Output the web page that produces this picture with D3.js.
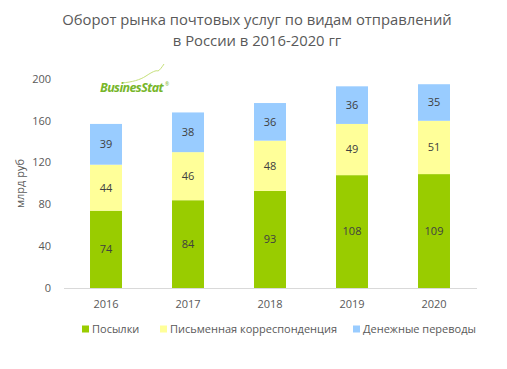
<!DOCTYPE html>
<html>
<head>
<meta charset="utf-8">
<script src="https://cdn.jsdelivr.net/npm/d3@7"></script>
<style>
  body { margin: 0; background: #fff; }
  text { font-family: "Open Sans", "Noto Sans", sans-serif; }
</style>
</head>
<body>
<div id="chart"></div>
<script>
const width = 507;
const height = 369;

// Data
const years = ["2016", "2017", "2018", "2019", "2020"];
const parcels = [74, 84, 93, 108, 109];
const letters = [44, 46, 48, 49, 51];
const transfers = [39, 38, 36, 36, 35];
const seriesNames = ["Посылки", "Письменная корреспонденция", "Денежные переводы"];
const colors = ["#99cc00", "#ffff99", "#99ccff"];
const yTicks = [0, 40, 80, 120, 160, 200];

const rows = years.map((y, i) => ({ year: y, s0: parcels[i], s1: letters[i], s2: transfers[i] }));
const stacked = d3.stack().keys(["s0", "s1", "s2"])(rows);

const svg = d3.select("#chart")
    .append("svg")
    .attr("width", width)
    .attr("height", height);

const x = d3.scaleBand()
    .domain(years)
    .range([65, 475])
    .paddingInner(0.61)
    .paddingOuter(0.305);

const y = d3.scaleLinear()
    .domain([0, 200])
    .range([288, 79]);

// Title
svg.append("text")
    .attr("x", 257)
    .attr("y", 25)
    .attr("text-anchor", "middle")
    .style("font-size", "14.8px")
    .style("fill", "#595959")
    .text("Оборот рынка почтовых услуг по видам отправлений");
svg.append("text")
    .attr("x", 257)
    .attr("y", 46)
    .attr("text-anchor", "middle")
    .style("font-size", "14.8px")
    .style("fill", "#595959")
    .text("в России в 2016-2020 гг");

// Y axis ticks
svg.append("g")
    .selectAll("text")
    .data(yTicks)
    .join("text")
    .attr("x", 51)
    .attr("y", d => y(d))
    .attr("dy", "0.35em")
    .attr("text-anchor", "end")
    .style("font-size", "11px")
    .style("fill", "#595959")
    .text(d => d);

// Y axis label
svg.append("text")
    .attr("transform", `translate(20,${(y(0) + y(200)) / 2}) rotate(-90)`)
    .attr("text-anchor", "middle")
    .attr("dy", "0.35em")
    .style("font-size", "11px")
    .style("fill", "#595959")
    .text("млрд руб");

// Bars
const layer = svg.append("g")
    .selectAll("g")
    .data(stacked)
    .join("g")
    .attr("fill", (d, i) => colors[i]);

layer.selectAll("rect")
    .data(d => d)
    .join("rect")
    .attr("x", d => x(d.data.year))
    .attr("width", x.bandwidth())
    .attr("y", d => y(d[1]))
    .attr("height", d => y(d[0]) - y(d[1]));

layer.selectAll("text")
    .data(d => d)
    .join("text")
    .attr("x", d => x(d.data.year) + x.bandwidth() / 2)
    .attr("y", d => (y(d[0]) + y(d[1])) / 2)
    .attr("dy", "0.35em")
    .attr("text-anchor", "middle")
    .style("font-size", "11px")
    .style("fill", "#404040")
    .text(d => d[1] - d[0]);

// X axis line
svg.append("line")
    .attr("x1", 64)
    .attr("x2", 477)
    .attr("y1", y(0) + 0.5)
    .attr("y2", y(0) + 0.5)
    .style("stroke", "#d9d9d9")
    .style("stroke-width", 1);

// X labels
svg.append("g")
    .selectAll("text")
    .data(years)
    .join("text")
    .attr("x", d => x(d) + x.bandwidth() / 2)
    .attr("y", 304)
    .attr("dy", "0.35em")
    .attr("text-anchor", "middle")
    .style("font-size", "11px")
    .style("fill", "#595959")
    .text(d => d);

// Legend
const legendX = [82, 160, 353];
const legend = svg.append("g")
    .selectAll("g")
    .data(seriesNames)
    .join("g")
    .attr("transform", (d, i) => `translate(${legendX[i]},329)`);
legend.append("rect")
    .attr("x", 0)
    .attr("y", -3.5)
    .attr("width", 7)
    .attr("height", 7)
    .attr("fill", (d, i) => colors[i]);
legend.append("text")
    .attr("x", 10)
    .attr("y", 0)
    .attr("dy", "0.35em")
    .style("font-size", "11px")
    .style("fill", "#595959")
    .text(d => d);

// Logo
const logo = svg.append("g").attr("transform", "translate(100,92)");
logo.append("path")
    .attr("d", "M22,-9 C32,-10 40,-12 46,-16 C52,-20 56,-22 58,-21 C60,-22 62,-25 64,-28")
    .style("fill", "none")
    .style("stroke", "#c6e07a")
    .style("stroke-width", 1);
logo.append("text")
    .attr("x", 0)
    .attr("y", 0)
    .style("font-size", "12.5px")
    .style("font-weight", "bold")
    .style("font-style", "italic")
    .style("letter-spacing", "-0.6px")
    .style("fill", "#77b62a")
    .text("BusinesStat");
logo.append("text")
    .attr("x", 65)
    .attr("y", -6)
    .style("font-size", "5px")
    .style("fill", "#77b62a")
    .text("®");
</script>
</body>
</html>
